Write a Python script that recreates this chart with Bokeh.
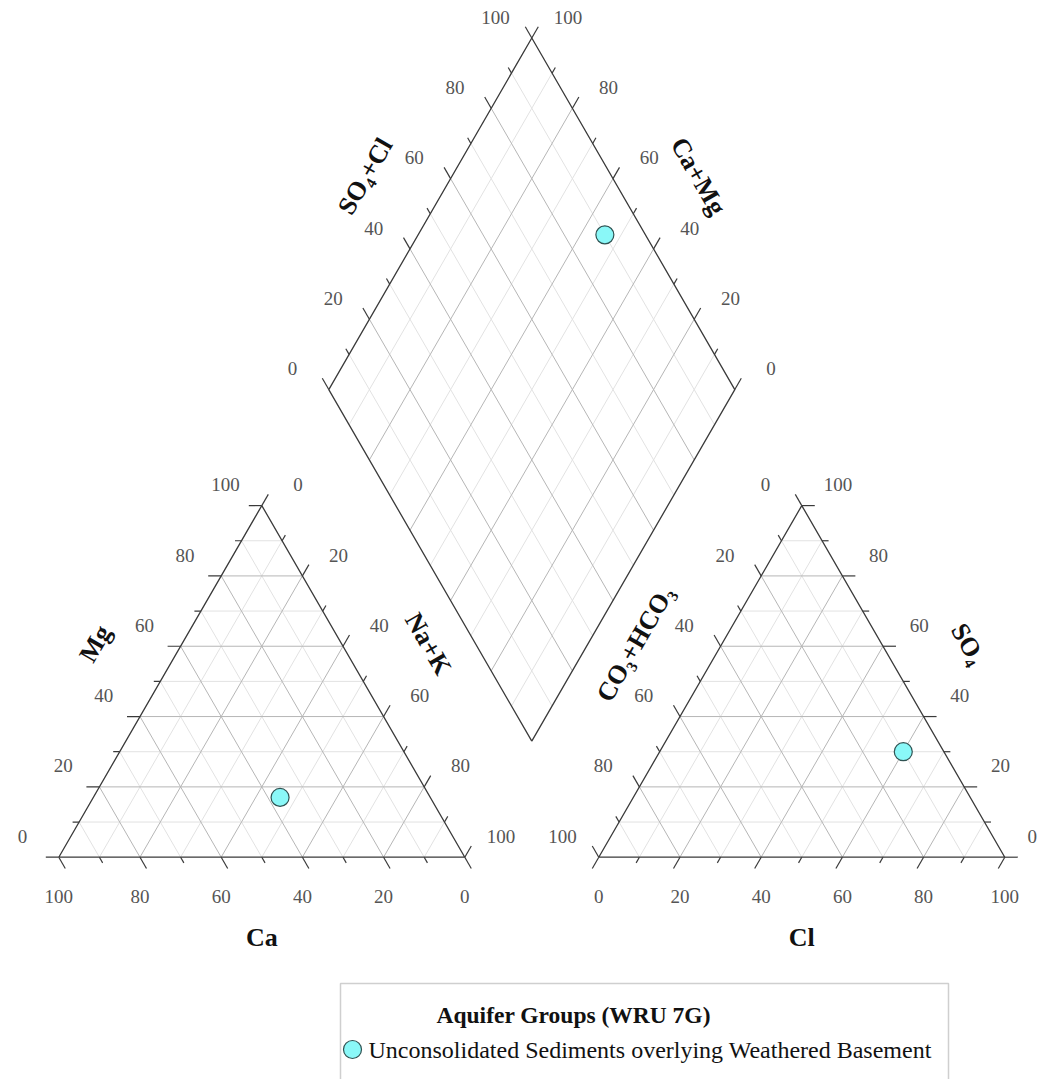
import math
from bokeh.plotting import figure
from bokeh.models import Range1d
from bokeh.core.properties import value
from bokeh.embed import file_html
from bokeh.resources import INLINE

# ---------------- data ----------------
group_label = "Unconsolidated Sediments overlying Weathered Basement"
legend_title = "Aquifer Groups (WRU 7G)"
ca = [37.0]
mg = [17.0]
nak = [46.0]
hco3 = [10.0]
so4 = [30.0]
cl = [60.0]
tick_values = [0, 10, 20, 30, 40, 50, 60, 70, 80, 90, 100]
label_values = [0, 20, 40, 60, 80, 100]

# ---------------- geometry ----------------
H = math.sqrt(3) / 2
G = 33.0                 # gap between triangles
O = 100 + G              # x offset of anion triangle
BX, BY = 100 + G / 2, G * H   # diamond bottom vertex

def cat_xy(c, m, n):
    t = c + m + n
    m, n = 100 * m / t, 100 * n / t
    return n + m / 2, m * H

def an_xy(h, s, c):
    t = h + s + c
    s, c = 100 * s / t, 100 * c / t
    return O + c + s / 2, s * H

def dia_xy(C, S):
    return BX + 0.5 * (S - C), BY + H * (S + C)

K = 4.06  # px per unit
W, HT = 1037, 1079
x0 = -58.3 / K
y1 = 856.7 / K
XMAX = x0 + W / K
p = figure(width=W, height=HT, x_range=Range1d(x0, XMAX),
           y_range=Range1d(y1 - HT / K, y1), output_backend="svg",
           toolbar_location=None, x_axis_location=None, y_axis_location=None,
           min_border=0, outline_line_color=None)
p.xgrid.visible = False
p.ygrid.visible = False

MAJOR = "#b6b6b6"
MINOR = "#e2e2e2"
EDGE = "#3a3a3a"
FONT = "Liberation Serif"

maj_x, maj_y, min_x, min_y = [], [], [], []
def add(xs, ys, major):
    (maj_x if major else min_x).append(xs)
    (maj_y if major else min_y).append(ys)

for v in tick_values[1:-1]:
    major = v % 20 == 0
    # cation triangle
    add([v / 2, 100 - v / 2], [v * H, v * H], major)
    add([v, v + (100 - v) / 2], [0, (100 - v) * H], major)
    add([100 - v, (100 - v) / 2], [0, (100 - v) * H], major)
    # anion triangle
    add([O + v / 2, O + 100 - v / 2], [v * H, v * H], major)
    add([O + v, O + v + (100 - v) / 2], [0, (100 - v) * H], major)
    add([O + 100 - v, O + (100 - v) / 2], [0, (100 - v) * H], major)
    # diamond
    a, b = dia_xy(0, v), dia_xy(100, v)
    add([a[0], b[0]], [a[1], b[1]], major)
    a, b = dia_xy(v, 0), dia_xy(v, 100)
    add([a[0], b[0]], [a[1], b[1]], major)

p.multi_line(min_x, min_y, line_color=MINOR, line_width=1)
p.multi_line(maj_x, maj_y, line_color=MAJOR, line_width=1)

# outlines
dpts = [dia_xy(0, 0), dia_xy(100, 0), dia_xy(100, 100), dia_xy(0, 100), dia_xy(0, 0)]
p.multi_line([[0, 100, 50, 0], [O, O + 100, O + 50, O], [q[0] for q in dpts]],
             [[0, 0, 100 * H, 0], [0, 0, 100 * H, 0], [q[1] for q in dpts]],
             line_color=EDGE, line_width=1.3)

# ticks and labels
tx, ty = [], []
lx, ly, lt = [], [], []
D = 10.3
def tick(px, py, dx, dy, v, nx, ny, lab=True):
    L = 3.2 if v % 20 == 0 else 1.6
    tx.append([px, px + dx * L])
    ty.append([py, py + dy * L])
    if lab and v in label_values:
        lx.append(min(px + nx, XMAX - 1.3))
        ly.append(py + ny)
        lt.append(str(v))

for v in tick_values:
    # Mg (left edge, cation)
    tick(v / 2, v * H, -1, 0, v, -D * H, D * 0.5)
    # Na+K (right edge, cation)
    tick(v + (100 - v) / 2, (100 - v) * H, 0.5, H, v, D * H, D * 0.5)
    # Ca (bottom, cation)
    tick(100 - v, 0, 0.5, -H, v, 0, -9.8)
    # CO3+HCO3 (left edge, anion)
    tick(O + (100 - v) / 2, (100 - v) * H, -0.5, H, v, -D * H, D * 0.5)
    # SO4 (right edge, anion)
    tick(O + 100 - v / 2, v * H, 1, 0, v, D * H, D * 0.5)
    # Cl (bottom, anion)
    tick(O + v, 0, -0.5, -H, v, 0, -9.8)
    # SO4+Cl (diamond upper-left)
    q = dia_xy(100, v)
    tick(q[0], q[1], -0.5, H, v, -D * H, D * 0.5)
    # Ca+Mg (diamond upper-right)
    q = dia_xy(v, 100)
    tick(q[0], q[1], 0.5, H, v, D * H, D * 0.5)

p.multi_line(tx, ty, line_color=EDGE, line_width=1.2)
p.text(lx, ly, text=lt, text_font=value(FONT), text_font_size="19px",
       text_color="#555555", text_align="center", text_baseline="middle")

# axis titles
T = 18.5
titles = [
    ("Mg", 25 - T * H, 50 * H + T * 0.5, math.pi / 3),
    ("Na+K", 75 + T * H, 50 * H + T * 0.5, -math.pi / 3),
    ("Ca", 50, -19.8, 0),
    ("CO\u2083+HCO\u2083", O + 25 - T * H, 50 * H + T * 0.5, math.pi / 3),
    ("SO\u2084", O + 75 + T * H, 50 * H + T * 0.5, -math.pi / 3),
    ("Cl", O + 50, -19.8, 0),
    ("SO\u2084+Cl", dia_xy(100, 50)[0] - T * H, dia_xy(100, 50)[1] + T * 0.5, math.pi / 3),
    ("Ca+Mg", dia_xy(50, 100)[0] + T * H, dia_xy(50, 100)[1] + T * 0.5, -math.pi / 3),
]
for t, x, y, ang in titles:
    p.text([x], [y], text=[t], angle=ang, text_font=value(FONT),
           text_font_size="26px", text_font_style="bold", text_color="#111111",
           text_align="center", text_baseline="middle")

# data points
cx, cy = zip(*[cat_xy(a, b, c) for a, b, c in zip(ca, mg, nak)])
ax_, ay_ = zip(*[an_xy(a, b, c) for a, b, c in zip(hco3, so4, cl)])
dxy = [dia_xy(a + b, s + c) for a, b, s, c in zip(ca, mg, so4, cl)]
dx_, dy_ = zip(*dxy)
PT_FILL = "#8af8f8"
PT_LINE = "#2f5252"
for xs, ys in [(cx, cy), (ax_, ay_), (dx_, dy_)]:
    p.scatter(list(xs), list(ys), size=18, marker="circle", fill_color=PT_FILL,
              line_color=PT_LINE, line_width=1.2)

# legend (drawn manually)
def ux(px):
    return x0 + px / K
def uy(py):
    return y1 - py / K
p.quad(left=[ux(340)], right=[ux(948)], top=[uy(983)], bottom=[uy(1200)],
       fill_color=None, line_color="#cfcfcf", line_width=1.5)
p.text([ux(436)], [uy(1014)], text=[legend_title], text_font=value(FONT),
       text_font_size="23.5px", text_font_style="bold", text_color="#111111",
       text_align="left", text_baseline="middle")
p.scatter([ux(352)], [uy(1049)], size=18, marker="circle", fill_color=PT_FILL,
          line_color=PT_LINE, line_width=1.2)
p.text([ux(368)], [uy(1049)], text=[group_label], text_font=value(FONT),
       text_font_size="24px", text_color="#111111",
       text_align="left", text_baseline="middle")

open("out.html", "w").write(file_html(p, INLINE))
